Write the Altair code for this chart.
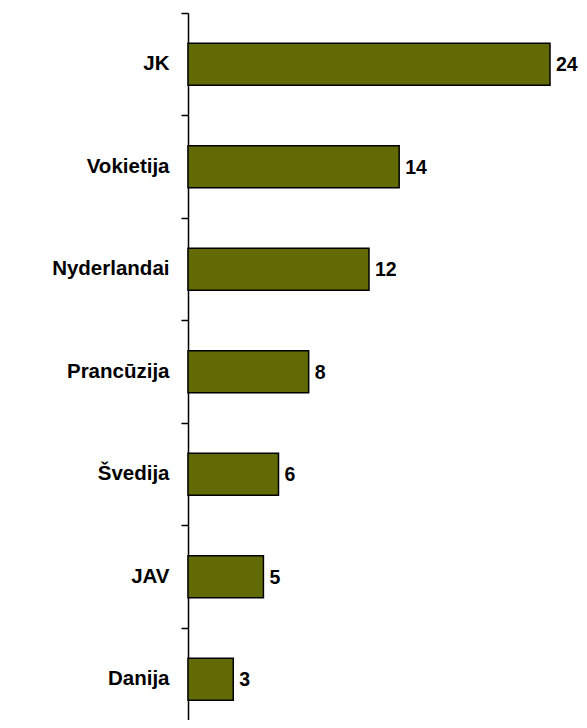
import altair as alt
import pandas as pd

countries = ["JK", "Vokietija", "Nyderlandai", "Prancūzija", "Švedija", "JAV", "Danija"]
values = [24, 14, 12, 8, 6, 5, 3]

df = pd.DataFrame({"country": countries, "value": values})

y_enc = alt.Y(
    "country:N",
    sort=countries,
    scale=alt.Scale(paddingInner=0, paddingOuter=0, range=[0, 717.5]),
    axis=alt.Axis(
        title=None,
        bandPosition=0,
        domainColor="black",
        domainWidth=1.5,
        tickColor="black",
        tickWidth=1.5,
        tickSize=7,
        labelPadding=12,
        labelFont="Liberation Sans",
        labelFontWeight="bold",
        labelFontSize=20.5,
        labelColor="black",
    ),
)
x_enc = alt.X("value:Q", scale=alt.Scale(domain=[0, 24], nice=False, zero=True), axis=None)

bars = alt.Chart(df).mark_bar(
    size=42, color="#626A06", stroke="black", strokeWidth=1.5
).encode(y=y_enc, x=x_enc)

labels = alt.Chart(df).mark_text(
    align="left", baseline="middle", dx=6, dy=1, font="Liberation Sans",
    fontWeight="bold", fontSize=19.5, color="black"
).encode(y=alt.Y("country:N", sort=countries), x="value:Q", text="value:Q")

chart = (
    alt.layer(bars, labels)
    .properties(
        width=362,
        height=707,
        autosize=alt.AutoSizeParams(type="none"),
        padding={"left": 180, "top": 5, "right": 29, "bottom": 0},
    )
    .configure_view(stroke=None)
)

chart.save("out.html", embed_options={"renderer": "svg", "actions": False})
